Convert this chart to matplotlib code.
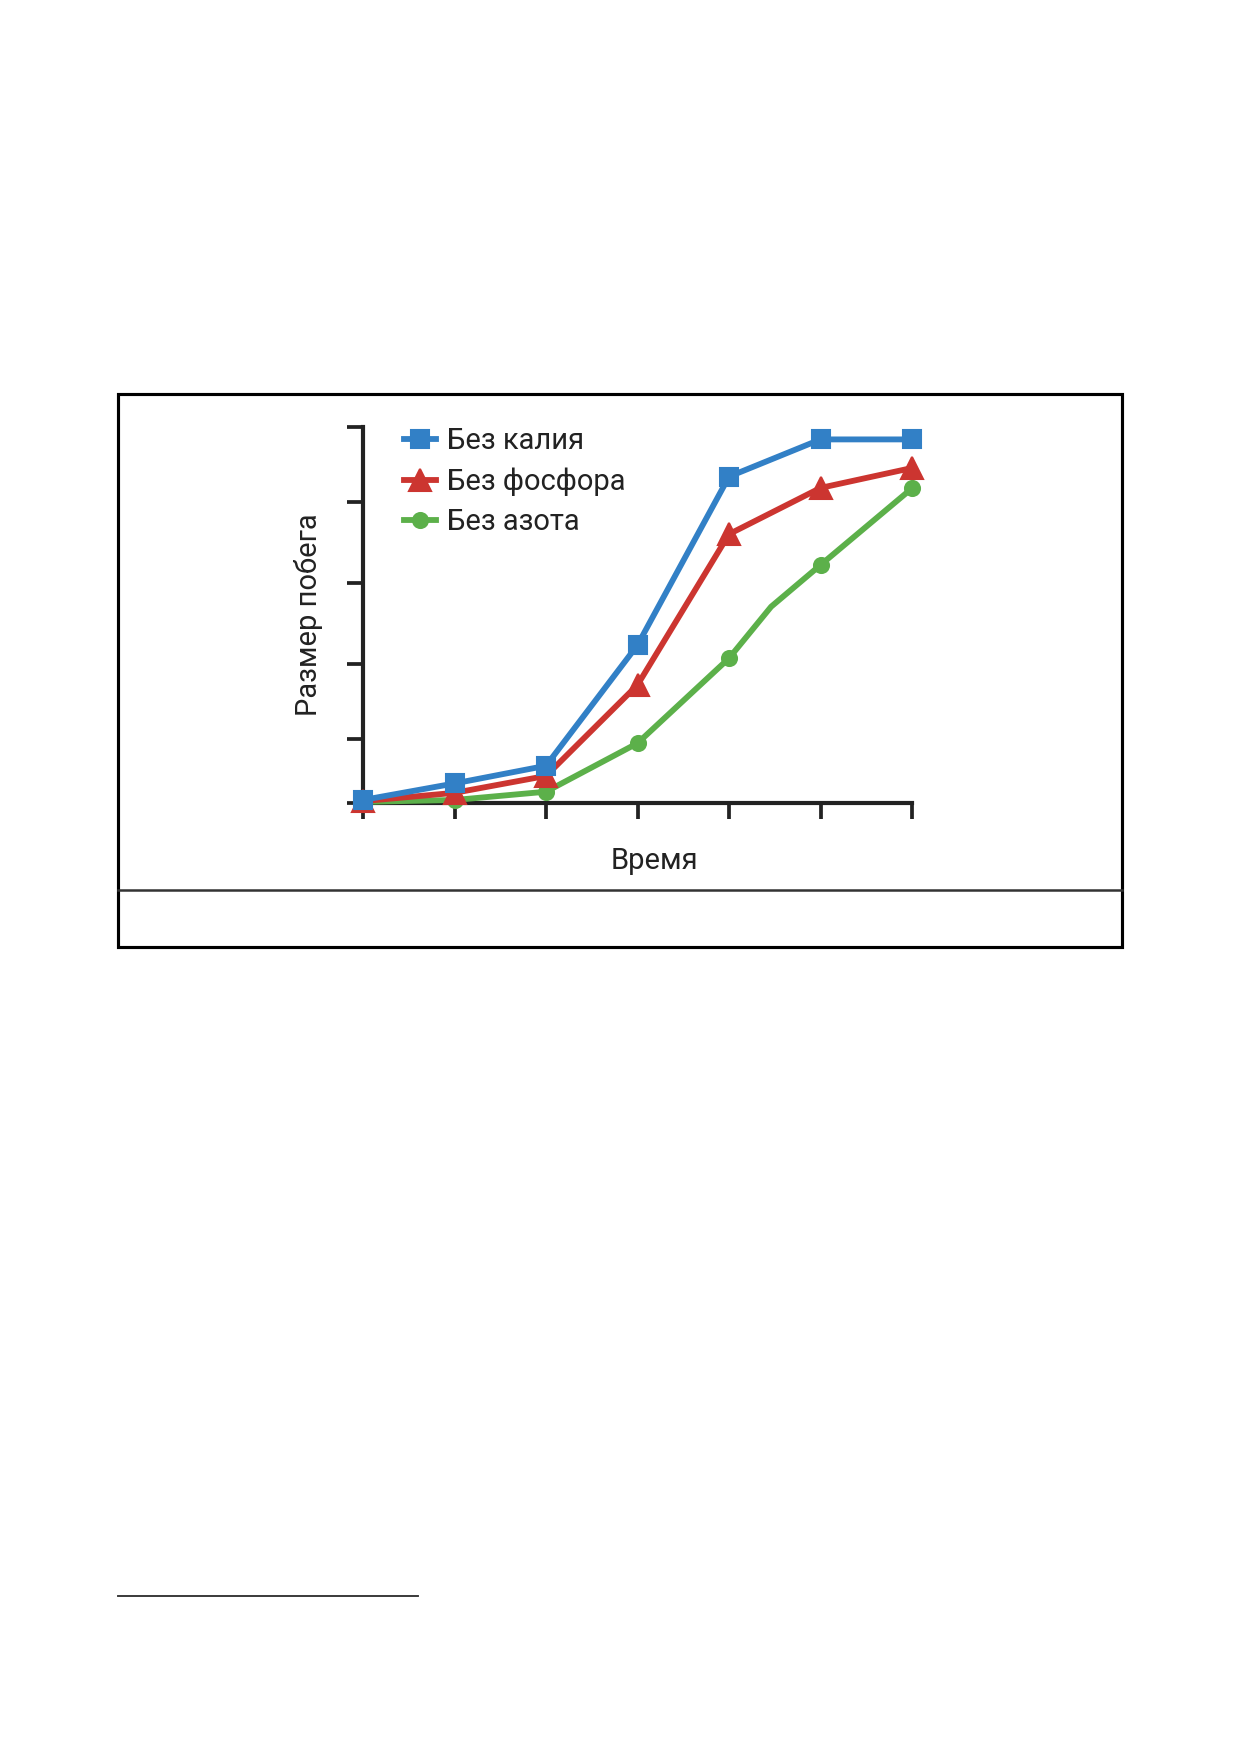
import matplotlib
matplotlib.use("Agg")
import matplotlib.pyplot as plt
from matplotlib.lines import Line2D
from matplotlib.patches import Rectangle

# --- data --------------------------------------------------------------------
time_points = [0, 1, 2, 3, 4, 5, 6]
no_potassium = [0.8, 5.2, 9.9, 42.0, 86.8, 96.7, 96.7]
no_phosphorus = [0.5, 2.7, 7.2, 31.4, 71.5, 83.8, 89.1]
# the green line has an extra bend (no marker) between points 4 and 5
time_nitrogen = [0, 1, 2, 3, 4, 4.46, 5, 6]
no_nitrogen = [0.3, 0.8, 3.0, 15.9, 38.5, 52.2, 63.3, 83.7]
nitrogen_marked = [0, 1, 2, 3, 4, 6, 7]

y_ticks = [0, 17, 37, 58.5, 80, 100]
labels = ["Без калия", "Без фосфора", "Без азота"]

# --- style -------------------------------------------------------------------
BLUE = "#3280c6"
RED = "#cc3530"
GREEN = "#5cb04a"
INK = "#222222"

plt.rcParams["font.family"] = ["Roboto", "DejaVu Sans"]

W, H, DPI = 1241, 1754, 150


def fx(px):
    return px / W


def fy(py):
    return 1 - py / H


fig = plt.figure(figsize=(W / DPI, H / DPI), dpi=DPI)

# frame around the figure area and the empty caption row
fig.add_artist(Rectangle((fx(118), fy(947)), fx(1122) - fx(118), fy(394) - fy(947),
                         transform=fig.transFigure, fill=False, edgecolor="black",
                         linewidth=1.5))
fig.add_artist(Line2D([fx(118), fx(1122)], [fy(890), fy(890)],
                      transform=fig.transFigure, color="#333333", linewidth=1.2))
# footnote separator
fig.add_artist(Line2D([fx(118), fx(418)], [fy(1596), fy(1596)],
                      transform=fig.transFigure, color="#333333", linewidth=0.9))

ax = fig.add_axes([fx(363), fy(803), fx(912) - fx(363), fy(427) - fy(803)])

ax.plot(time_nitrogen, no_nitrogen, color=GREEN, lw=2.8, marker="o", ms=7.2,
        markevery=nitrogen_marked, clip_on=False, zorder=3, label=labels[2])
ax.plot(time_points, no_phosphorus, color=RED, lw=2.8, marker="^", ms=10.5,
        clip_on=False, zorder=4, label=labels[1])
ax.plot(time_points, no_potassium, color=BLUE, lw=2.8, marker="s", ms=8.2,
        clip_on=False, zorder=5, label=labels[0])

ax.set_xlim(0, 6)
ax.set_ylim(0, 100)
ax.set_xticks(time_points)
ax.set_yticks(y_ticks)
ax.set_xticklabels([])
ax.set_yticklabels([])
ax.tick_params(direction="out", length=7.5, width=1.8, color=INK)
for side in ("top", "right"):
    ax.spines[side].set_visible(False)
for side in ("left", "bottom"):
    ax.spines[side].set_linewidth(2.0)
    ax.spines[side].set_color(INK)

ax.set_xlabel("Время", fontsize=14, color=INK)
ax.xaxis.set_label_coords(0.53, -0.116)
ax.set_ylabel("Размер побега", fontsize=14, color=INK, labelpad=8)

handles, labs = ax.get_legend_handles_labels()
ax.legend(handles[::-1], labs[::-1], loc="upper left", bbox_to_anchor=(0.053, 1.03),
          frameon=False, fontsize=14, handlelength=1.1, handletextpad=0.38,
          labelspacing=0.42, borderaxespad=0, labelcolor=INK)

fig.savefig("out.png", dpi=DPI, facecolor="white")
